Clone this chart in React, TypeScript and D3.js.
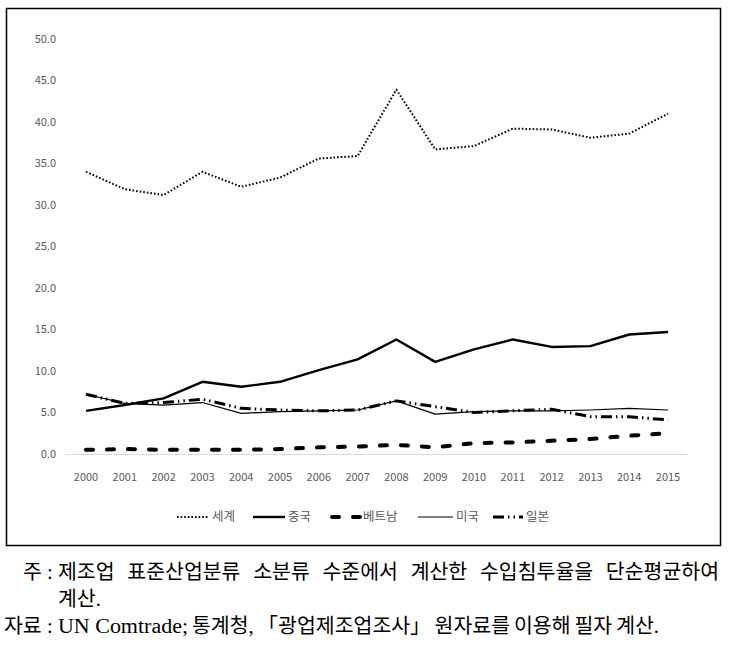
import { useLayoutEffect, useRef, useState } from "react";
import * as d3 from "d3";

const YEARS = ["2000", "2001", "2002", "2003", "2004", "2005", "2006", "2007", "2008", "2009", "2010", "2011", "2012", "2013", "2014", "2015"];
const WORLD = [34.0, 31.9, 31.2, 34.0, 32.2, 33.3, 35.6, 35.9, 43.9, 36.7, 37.1, 39.2, 39.1, 38.1, 38.6, 41.0];
const CHINA = [5.2, 5.9, 6.7, 8.7, 8.1, 8.7, 10.1, 11.4, 13.8, 11.1, 12.6, 13.8, 12.9, 13.0, 14.4, 14.7];
const VIETNAM = [0.5, 0.6, 0.5, 0.5, 0.5, 0.6, 0.8, 0.9, 1.1, 0.8, 1.3, 1.4, 1.6, 1.8, 2.2, 2.5];
const USA = [7.2, 6.1, 5.9, 6.2, 4.9, 5.1, 5.2, 5.3, 6.4, 4.8, 5.1, 5.2, 5.2, 5.3, 5.5, 5.3];
const JAPAN = [7.2, 6.1, 6.2, 6.6, 5.5, 5.3, 5.2, 5.3, 6.4, 5.7, 5.0, 5.2, 5.4, 4.5, 4.5, 4.1];
const Y_TICKS = [0, 5, 10, 15, 20, 25, 30, 35, 40, 45, 50];

const NOTE_WORDS = ["제조업", "표준산업분류", "소분류", "수준에서", "계산한", "수입침투율을", "단순평균하여"];
const SOURCE_PARTS = ["UN Comtrade;", "통계청,", "「광업제조업조사」", "원자료를", "이용해", "필자", "계산."];

const SERIES = [
  { name: "세계", values: WORLD, width: 2, dash: "1.6,2", cap: "butt" },
  { name: "중국", values: CHINA, width: 2.4, dash: null, cap: "butt" },
  { name: "베트남", values: VIETNAM, width: 4, dash: "7,14", cap: "round" },
  { name: "미국", values: USA, width: 1.2, dash: null, cap: "butt" },
  { name: "일본", values: JAPAN, width: 3, dash: "11,4,1.5,4,1.5,4", cap: "butt" },
];

const LEGEND_X = [177, 253, 330, 418, 493];
const LEGEND_W = [32, 32, 30, 35, 30];

const TICK_FONT = "'Noto Sans CJK KR', 'Noto Sans', sans-serif";
const NOTE_FONT = "'Liberation Serif', 'Noto Sans CJK KR', serif";
const GREY = "#595959";
const NOTE_FS = 20.5;

// spread the pieces of a line evenly between x0 and x1
function justify(widths: number[], x0: number, x1: number) {
  const total = widths.reduce((s, w) => s + w, 0);
  const gap = (x1 - x0 - total) / (widths.length - 1);
  let cx = x0;
  return widths.map((w) => {
    const p = cx;
    cx += w + gap;
    return p;
  });
}

export default function App() {
  const W = 731;
  const H = 653;
  const x = d3.scalePoint<string>().domain(YEARS).range([86, 668]);
  const y = d3.scaleLinear().domain([0, 50]).range([454, 39]);
  const line = d3.line<number>().x((_, i) => x(YEARS[i])!).y((d) => y(d));

  const noteRefs = useRef<(SVGTextElement | null)[]>([]);
  const srcRefs = useRef<(SVGTextElement | null)[]>([]);
  const [noteW, setNoteW] = useState<number[]>(NOTE_WORDS.map((w) => w.length * NOTE_FS));
  const [srcW, setSrcW] = useState<number[]>(SOURCE_PARTS.map((w, i) => (i === 0 ? 130 : w.length * NOTE_FS)));

  useLayoutEffect(() => {
    setNoteW(noteRefs.current.map((t) => (t ? t.getComputedTextLength() : 0)));
    setSrcW(srcRefs.current.map((t, i) => (i === 0 ? 130 : t ? t.getComputedTextLength() : 0)));
  }, []);

  const noteX = justify(noteW, 58, 719);
  const srcX = justify(srcW, 58, 659);

  return (
    <div style={{ position: "absolute", left: 0, top: 0 }}>
      <svg width={W} height={H} style={{ display: "block", background: "#fff" }}>
        <rect x={6.5} y={8.5} width={714} height={537} fill="none" stroke="#000" strokeWidth={1.5} />

        {/* y-axis labels */}
        {Y_TICKS.map((t) => (
          <text key={t} x={56} y={y(t)} dy="0.35em" textAnchor="end"
            fontFamily={TICK_FONT} fontSize={11} fill={GREY}>
            {t.toFixed(1)}
          </text>
        ))}

        {/* x axis */}
        <line x1={66} x2={687} y1={454.5} y2={454.5} stroke="#d9d9d9" strokeWidth={1.2} />
        {YEARS.map((yr) => (
          <text key={yr} x={x(yr)} y={477} dy="0.35em" textAnchor="middle"
            fontFamily={TICK_FONT} fontSize={11} fill={GREY}>
            {yr}
          </text>
        ))}

        {/* series */}
        {SERIES.map((s) => (
          <path key={s.name} d={line(s.values) || ""} fill="none" stroke="#000"
            strokeWidth={s.width} strokeDasharray={s.dash || undefined}
            strokeLinecap={s.cap as "butt" | "round"} strokeLinejoin="round" />
        ))}

        {/* legend */}
        {SERIES.map((s, i) => (
          <g key={s.name}>
            <line x1={LEGEND_X[i] + (s.cap === "round" ? 2 : 0)} x2={LEGEND_X[i] + LEGEND_W[i]} y1={517} y2={517}
              stroke="#000" strokeWidth={s.width} strokeDasharray={s.dash || undefined}
              strokeLinecap={s.cap as "butt" | "round"} />
            <text x={LEGEND_X[i] + LEGEND_W[i] + 3} y={517} dy="0.35em"
              fontFamily={TICK_FONT} fontSize={12.5} fill={GREY}>
              {s.name}
            </text>
          </g>
        ))}

        {/* notes */}
        <g fontFamily={NOTE_FONT} fontSize={NOTE_FS} fill="#000">
          <text x={23} y={572} dy="0.35em">주</text>
          <text x={47} y={572} dy="0.35em">:</text>
          {NOTE_WORDS.map((w, i) => (
            <text key={w} ref={(el) => { noteRefs.current[i] = el; }} x={noteX[i]} y={572} dy="0.35em">{w}</text>
          ))}
          <text x={58} y={599} dy="0.35em">계산.</text>
          <text x={4} y={626} dy="0.35em">자료</text>
          <text x={47} y={626} dy="0.35em">:</text>
          {SOURCE_PARTS.map((p, i) => (
            <text key={p} ref={(el) => { srcRefs.current[i] = el; }} x={srcX[i]} y={626} dy="0.35em"
              textLength={i === 0 ? 130 : undefined} lengthAdjust={i === 0 ? "spacingAndGlyphs" : undefined}>
              {p}
            </text>
          ))}
        </g>
      </svg>
    </div>
  );
}
